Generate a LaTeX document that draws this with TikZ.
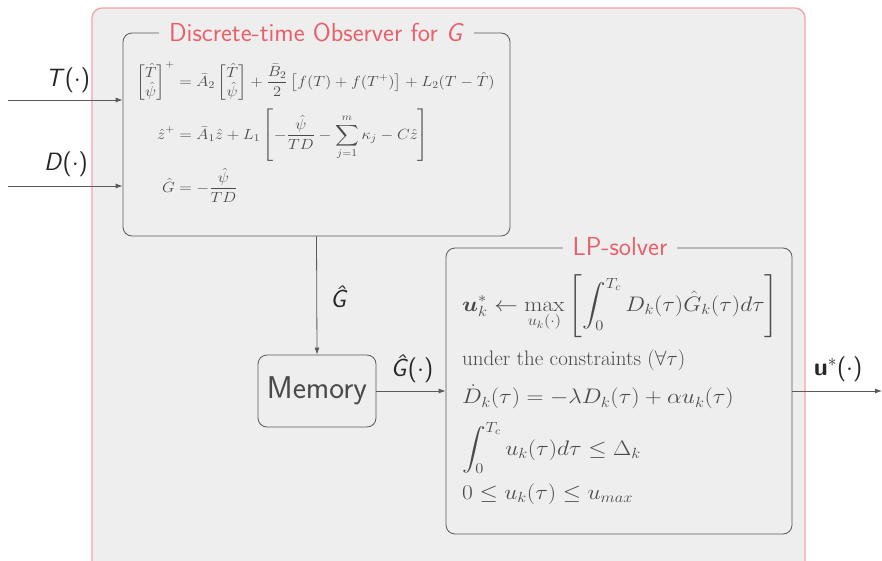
\RequirePackage{fix-cm}
\documentclass[tikz,border=0pt]{standalone}
\usepackage{amsmath,amssymb,graphicx}
\usetikzlibrary{arrows.meta}
\definecolor{bgc}{HTML}{EEEEEE}
\definecolor{pinkb}{HTML}{F4A3A8}
\definecolor{titlec}{HTML}{E8606A}
\definecolor{linec}{HTML}{5A5A5A}
\definecolor{txtc}{HTML}{4A4A4A}
\newcommand{\xst}[1]{\scalebox{1.12}[1]{#1}}
\tikzset{
  box/.style={draw=linec, line width=0.8pt, rounded corners=9pt, fill=bgc},
  boxtitle/.style={fill=bgc, text=titlec, inner xsep=10pt, inner ysep=1pt, font=\sffamily\fontsize{26}{30}\selectfont},
  lbl/.style={text=black!85, font=\sffamily\fontsize{25}{28}\selectfont},
  eq/.style={text=txtc, inner sep=0pt, font=\fontsize{21}{25}\selectfont},
  obseq/.style={text=txtc, inner sep=0pt, font=\fontsize{14.7}{18}\selectfont},
  conn/.style={draw=linec, line width=0.8pt, -{Latex[length=7pt,width=5pt]}}
}
\begin{document}
\begin{tikzpicture}[x=1pt,y=-1pt]
\useasboundingbox (0,0) rectangle (882,561);
\clip (0,0) rectangle (882,561);
% outer frame
\draw[draw=pinkb, line width=1.3pt, fill=bgc, rounded corners=10pt] (92,8) rectangle (805,590);
% observer
\node[box, minimum width=387pt, minimum height=203pt] (obs) at (316.5,134.5) {};
\node[boxtitle] (obst) at (316.5,32) {Discrete-time Observer for \textit{G}};
\node[obseq, anchor=north west] (obseqs) at (136,61) {\xst{$\displaystyle
\begin{aligned}
\begin{bmatrix}\hat T\\ \hat\psi\end{bmatrix}^{+} &= \bar A_2 \begin{bmatrix}\hat T\\ \hat\psi\end{bmatrix} + \frac{\bar B_2}{2}\left[f(T)+f(T^{+})\right] + L_2(T-\hat T)\\[1pt]
\hat z^{+} &= \bar A_1 \hat z + L_1 \left[\vrule height 32pt depth 25pt width 0pt -\frac{\hat\psi}{TD} - \sum_{j=1}^{m}\kappa_j - C\hat z\right]\\[0pt]
\hat G &= -\frac{\hat\psi}{TD}
\end{aligned}$}};
% memory
\node[box, minimum width=118pt, minimum height=72pt, text=txtc, font=\sffamily\fontsize{31.5}{36}\selectfont] (mem) at (317,391) {Memory};
% LP solver
\node[box, minimum width=346pt, minimum height=286pt] (lp) at (619,391) {};
\node[boxtitle] (lpt) at (620,247) {LP-solver};
\node[eq, anchor=west] (l1) at (462,306) {\xst{$\displaystyle \boldsymbol{u}_k^{*} \leftarrow \max_{u_k(\cdot)}\left[\int_0^{T_c} D_k(\tau)\hat G_k(\tau)d\tau\right]$}};
\node[eq, anchor=west] (l2) at (462,360) {under the constraints $(\forall\tau)$};
\node[eq, anchor=west] (l3) at (462,397) {\xst{$\dot D_k(\tau) = -\lambda D_k(\tau) + \alpha u_k(\tau)$}};
\node[eq, anchor=west] (l4) at (462,448) {\xst{$\displaystyle \int_0^{T_c} u_k(\tau)d\tau \le \Delta_k$}};
\node[eq, anchor=west] (l5) at (462,494) {\xst{$0 \le u_k(\tau) \le u_{max}$}};
% inputs
\coordinate (tin) at (8,100);
\coordinate (din) at (8,186);
\coordinate (uout) at (882,391);
\draw[conn] (tin) -- (tin -| obs.west);
\draw[conn] (din) -- (din -| obs.west);
\node[lbl] (tl) at (68,80) {\textit{T}($\cdot$)};
\node[lbl] (dl) at (66,164) {\textit{D}($\cdot$)};
\draw[conn] (obs.south) -- (mem.north);
\node[lbl] (gl) at (339,297) {\textit{\^G}};
\draw[conn] (mem.east) -- (lp.west);
\node[lbl] (gdl) at (412,369) {\textit{\^G}($\cdot$)};
\draw[conn] (lp.east) -- (uout);
\node[lbl] (ul) at (838,369) {\textbf{u}$^{*}$($\cdot$)};
\end{tikzpicture}
\end{document}
